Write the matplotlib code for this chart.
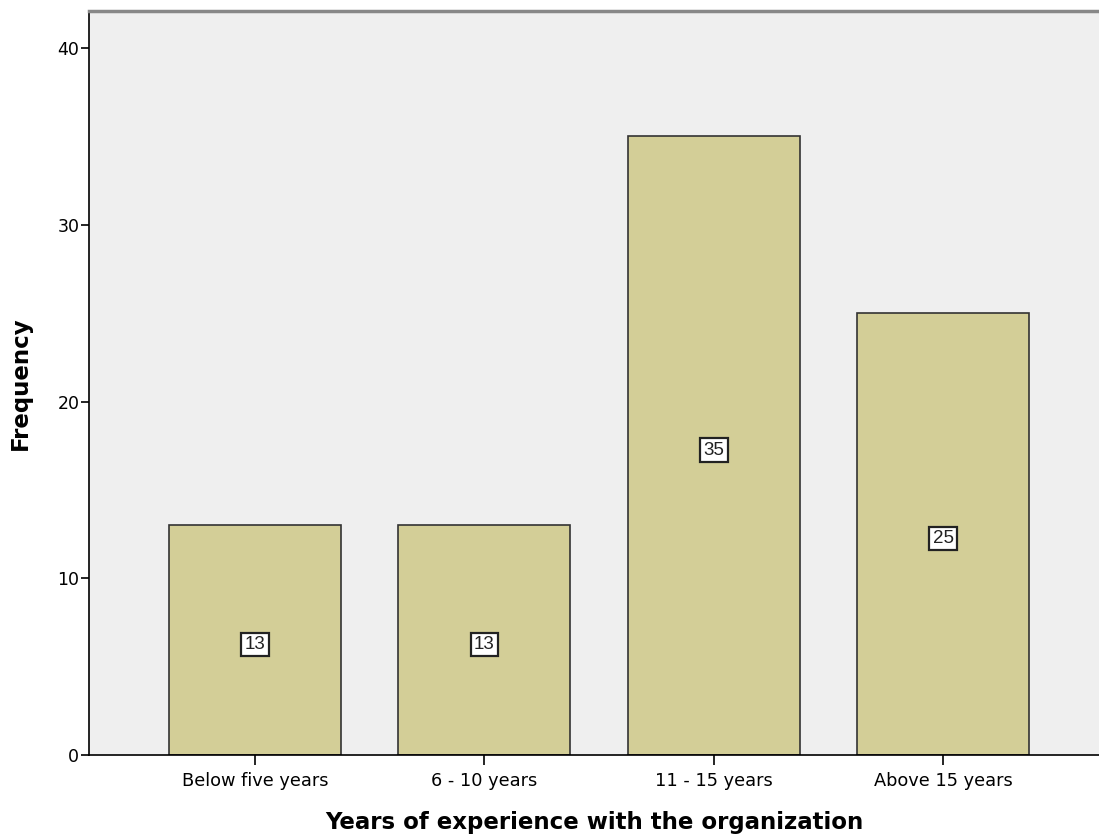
import matplotlib
matplotlib.use('Agg')
import matplotlib.pyplot as plt

categories = ['Below five years', '6 - 10 years', '11 - 15 years', 'Above 15 years']
counts = [13, 13, 35, 25]

plt.rcParams['font.family'] = ['DejaVu Sans']

fig = plt.figure(figsize=(10.99, 8.38), dpi=100)
ax = fig.add_axes([0.081, 0.099, 0.919, 0.888])
ax.set_facecolor('#efefef')

x = list(range(len(categories)))
bars = ax.bar(x, counts, width=0.75, color='#d3ce97', edgecolor='#333333', linewidth=1.2, zorder=2)

# value boxes in the middle of each bar
for bar, count in zip(bars, counts):
    ax.text(bar.get_x() + bar.get_width() / 2, count / 2 - 0.25, str(count),
            ha='center', va='center', fontsize=13.5, family='Liberation Sans', color='#222222', zorder=3,
            bbox=dict(boxstyle='square,pad=0.18', facecolor='white', edgecolor='#222222', linewidth=1.6))

ax.set_xlim(-0.724, 3.68)
ax.set_ylim(0, 42.1)
ax.set_yticks([0, 10, 20, 30, 40])
ax.set_xticks(x)
ax.set_xticklabels(categories, fontsize=12.8)
ax.tick_params(axis='y', labelsize=12.5, length=6, width=1.2, pad=1)
ax.tick_params(axis='x', length=7, width=1.2, pad=5)

for side in ['left', 'bottom']:
    ax.spines[side].set_color('black')
    ax.spines[side].set_linewidth(1.2)
ax.spines['top'].set_color('#888888')
ax.spines['top'].set_linewidth(2.5)
ax.spines['right'].set_visible(False)

ax.set_xlabel('Years of experience with the organization', fontsize=16.5, fontweight='bold', labelpad=15)
ax.set_ylabel('Frequency', fontsize=16.5, fontweight='bold', labelpad=18)

plt.savefig('out.png', dpi=100)
plt.close()
